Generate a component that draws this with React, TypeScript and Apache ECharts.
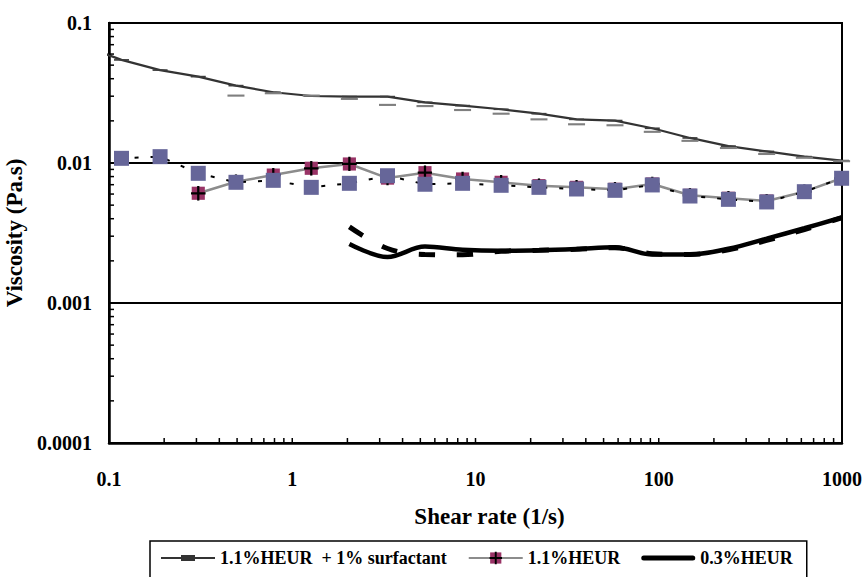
import React, { useEffect, useRef } from 'react';
import * as echarts from 'echarts';

// Shear rates (1/s) common to all runs
const shearRates = [0.117, 0.19, 0.307, 0.493, 0.788, 1.27, 2.05, 3.31, 5.3, 8.5, 13.8, 22.2, 35.6, 57.7, 92.2, 148, 240, 388, 623, 995];

// Leading (off-scale) points that the reference lines start from
const surfactantLead = [0.093, 0.061];
const heurLead = [0.093, 0.0117];

// 1.1%HEUR + 1% surfactant, run 1 (from shearRates[0])
const surfactantRun1 = [0.0545, 0.0461, 0.0414, 0.0357, 0.032, 0.0301, 0.0298, 0.0298, 0.0271, 0.0257, 0.0242, 0.0225, 0.0205, 0.0201, 0.0177, 0.0151, 0.0132, 0.0121, 0.0111, 0.0104];
// run 2 (from shearRates[3])
const surfactantRun2 = [0.0303, 0.0315, 0.0303, 0.0287, 0.026, 0.0255, 0.0239, 0.0225, 0.0205, 0.0189, 0.0186, 0.0167, 0.0144, 0.0128, 0.0116, 0.0109, 0.0103];

// 1.1%HEUR, run 1 (from shearRates[2])
const heurRun1 = [0.00608, 0.00735, 0.0082, 0.00917, 0.00984, 0.0078, 0.00853, 0.00769, 0.00728, 0.00689, 0.0067, 0.00649, 0.00708, 0.00588, 0.0056, 0.00535, 0.00624, 0.00778];
// run 2 (from shearRates[0])
const heurRun2 = [0.0108, 0.0111, 0.00844, 0.00728, 0.00752, 0.0067, 0.00716, 0.00811, 0.00705, 0.00716, 0.00693, 0.0067, 0.00652, 0.00638, 0.00697, 0.00581, 0.0055, 0.00527, 0.00624, 0.00778];

// 0.3%HEUR (from shearRates[6])
const heur03Run1 = [0.00264, 0.00213, 0.00253, 0.0024, 0.00236, 0.00238, 0.00243, 0.0025, 0.00222, 0.00222, 0.00244, 0.00288, 0.00342, 0.00408];
const heur03Run2 = [0.0035, 0.00245, 0.00222, 0.00221, 0.00234, 0.00238, 0.00242, 0.00248, 0.00225, 0.00222, 0.0024, 0.0028, 0.00335, 0.00405];

// Axes
const xTickLabels = ['0.1', '1', '10', '100', '1000'];
const yTickLabels = ['0.0001', '0.001', '0.01', '0.1'];
const xDecades = [0.1, 1, 10, 100];
const yDecades = [0.0001, 0.001, 0.01];
const tickMultipliers = [1, 2, 3, 4, 5, 6, 7, 8, 9];

const legendNames = ['1.1%HEUR  + 1% surfactant', '1.1%HEUR', '0.3%HEUR'];

const FONT = "'Liberation Serif', 'Times New Roman', serif";

function pairs(ys: number[], offset: number): number[][] {
  return ys.map((y, i) => [shearRates[i + offset], y]);
}

function tickValues(decades: number[]): number[] {
  const out: number[] = [];
  decades.forEach((d, di) => {
    tickMultipliers.forEach((m) => {
      if (di === 0 && m === 1) return;
      out.push(+(d * m).toPrecision(6));
    });
  });
  return out;
}

const crossSquareSvg =
  "<svg xmlns='http://www.w3.org/2000/svg' width='16' height='16' viewBox='0 0 16 16'>" +
  "<rect x='1' y='1' width='14' height='14' fill='#993366'/>" +
  "<path d='M8 0V16M0 8H16' stroke='#000' stroke-width='2.4'/></svg>";
const crossSquareSymbol = 'image://data:image/svg+xml;charset=utf-8,' + encodeURIComponent(crossSquareSvg);

const lineWithDashIcon = 'path://M0,2H20V0H34V2H54V4H34V6H20V4H0Z';
const thickLineIcon = 'path://M2.5,0H51.5A2.5,2.5 0 0 1 51.5,5H2.5A2.5,2.5 0 0 1 2.5,0Z';

export default function App() {
  const ref = useRef<HTMLDivElement>(null);
  useEffect(() => {
    if (!ref.current) return;
    const chart = echarts.init(ref.current, undefined, { renderer: 'svg' });
    const xMin = 0.1, xMax = 1000, yMin = 0.0001, yMax = 0.1;
    const xTicks = tickValues(xDecades);
    const yTicks = tickValues(yDecades);

    const option: any = {
      animation: false,
      backgroundColor: '#fff',
      textStyle: { fontFamily: FONT },
      grid: {
        left: 109, right: 24, top: 23, bottom: 134,
        show: true, borderColor: '#000', borderWidth: 2, backgroundColor: 'transparent',
        containLabel: false,
        outerBoundsMode: 'none',
      },
      legend: {
        data: [
          { name: legendNames[0], icon: lineWithDashIcon, itemStyle: { color: '#333' } },
          { name: legendNames[1] },
          { name: legendNames[2], icon: thickLineIcon, itemStyle: { color: '#000' } },
        ],
        left: 150, top: 541,
        orient: 'horizontal',
        itemWidth: 54, itemHeight: 16, itemGap: 21,
        symbolKeepAspect: true,
        padding: [8, 14, 40, 11],
        borderColor: '#000', borderWidth: 1.5,
        textStyle: { fontFamily: FONT, fontWeight: 'bold', fontSize: 18, color: '#000' },
        selectedMode: false,
      },
      xAxis: {
        type: 'log', logBase: 10, min: xMin, max: xMax,
        name: 'Shear rate (1/s)', nameLocation: 'middle', nameGap: 62,
        nameTextStyle: { fontFamily: FONT, fontWeight: 'bold', fontSize: 23, color: '#000', padding: [0, 0, 0, 28] },
        axisLine: { show: true, lineStyle: { color: '#000', width: 2.5 } },
        axisTick: { show: false },
        splitLine: { show: false },
        minorTick: { show: false },
        axisLabel: {
          margin: 26, fontFamily: FONT, fontWeight: 'bold', fontSize: 20, color: '#000',
          formatter: (v: number) => xTickLabels[Math.round(Math.log10(v)) + 1] ?? '',
        },
      },
      yAxis: {
        type: 'log', logBase: 10, min: yMin, max: yMax,
        name: 'Viscosity (Pa.s)', nameLocation: 'middle', nameGap: 76, nameRotate: 90,
        nameTextStyle: { fontFamily: FONT, fontWeight: 'bold', fontSize: 23, color: '#000' },
        axisLine: { show: true, lineStyle: { color: '#000', width: 2.5 } },
        axisTick: { show: false },
        splitLine: { show: true, lineStyle: { color: '#000', width: 2 } },
        minorTick: { show: false },
        axisLabel: {
          margin: 17, fontFamily: FONT, fontWeight: 'bold', fontSize: 20, color: '#000',
          formatter: (v: number) => yTickLabels[Math.round(Math.log10(v)) + 4] ?? '',
        },
      },
      series: [
        {
          name: 'xticks', type: 'custom', silent: true, clip: false, z: 5,
          data: xTicks.map((v) => [v, yMin]),
          encode: { x: 0, y: 1 },
          renderItem: (_p: any, api: any) => {
            const c = api.coord([api.value(0), api.value(1)]);
            return { type: 'line', shape: { x1: c[0], y1: c[1], x2: c[0], y2: c[1] - 5 }, style: { stroke: '#000', lineWidth: 1.5 } };
          },
        },
        {
          name: 'yticks', type: 'custom', silent: true, clip: false, z: 5,
          data: yTicks.map((v) => [xMin, v]),
          encode: { x: 0, y: 1 },
          renderItem: (_p: any, api: any) => {
            const c = api.coord([api.value(0), api.value(1)]);
            return { type: 'line', shape: { x1: c[0], y1: c[1], x2: c[0] + 5, y2: c[1] }, style: { stroke: '#000', lineWidth: 1.5 } };
          },
        },
        {
          name: legendNames[0], type: 'line', clip: false, z: 3,
          data: [{ value: surfactantLead, symbol: 'none' }, ...pairs(surfactantRun1, 0)],
          symbol: 'path://M0,0H15V5H0Z', symbolKeepAspect: true, symbolSize: [15, 5],
          lineStyle: { color: '#333', width: 2.2 },
          itemStyle: { color: '#3c3c3c', borderWidth: 0 },
        },
        {
          name: 'surfactant run 2', type: 'line', z: 4,
          data: pairs(surfactantRun2, 3),
          symbol: 'path://M0,0H17V6H0Z', symbolKeepAspect: true, symbolSize: [17, 6],
          lineStyle: { width: 0, opacity: 0 },
          itemStyle: { color: '#7f7f7f', borderWidth: 0 },
        },
        {
          name: legendNames[1], type: 'line', z: 6,
          data: pairs(heurRun1, 2),
          symbol: crossSquareSymbol, symbolSize: 15,
          lineStyle: { color: '#8c8c8c', width: 2.5 },
          itemStyle: { color: '#993366' },
        },
        {
          name: 'HEUR run 2', type: 'line', clip: false, z: 7,
          data: [{ value: heurLead, symbol: 'none' }, ...pairs(heurRun2, 0)],
          symbol: 'rect', symbolSize: 15,
          lineStyle: { color: '#000', width: 2, type: [4, 12] },
          itemStyle: { color: '#666699', borderWidth: 0 },
        },
        {
          name: legendNames[2], type: 'line', z: 8,
          data: pairs(heur03Run1, 6),
          symbol: 'none', smooth: 0.35,
          lineStyle: { color: '#000', width: 4.5 },
          itemStyle: { color: '#000' },
        },
        {
          name: '0.3%HEUR run 2', type: 'line', z: 8,
          data: pairs(heur03Run2, 6),
          symbol: 'none', smooth: 0.35,
          lineStyle: { color: '#000', width: 5, type: [16, 22] },
          itemStyle: { color: '#000' },
        },
      ],
    };
    chart.setOption(option);
    return () => chart.dispose();
  }, []);
  return <div ref={ref} style={{ position: 'fixed', left: 0, top: 0, width: 866, height: 577 }} />;
}
